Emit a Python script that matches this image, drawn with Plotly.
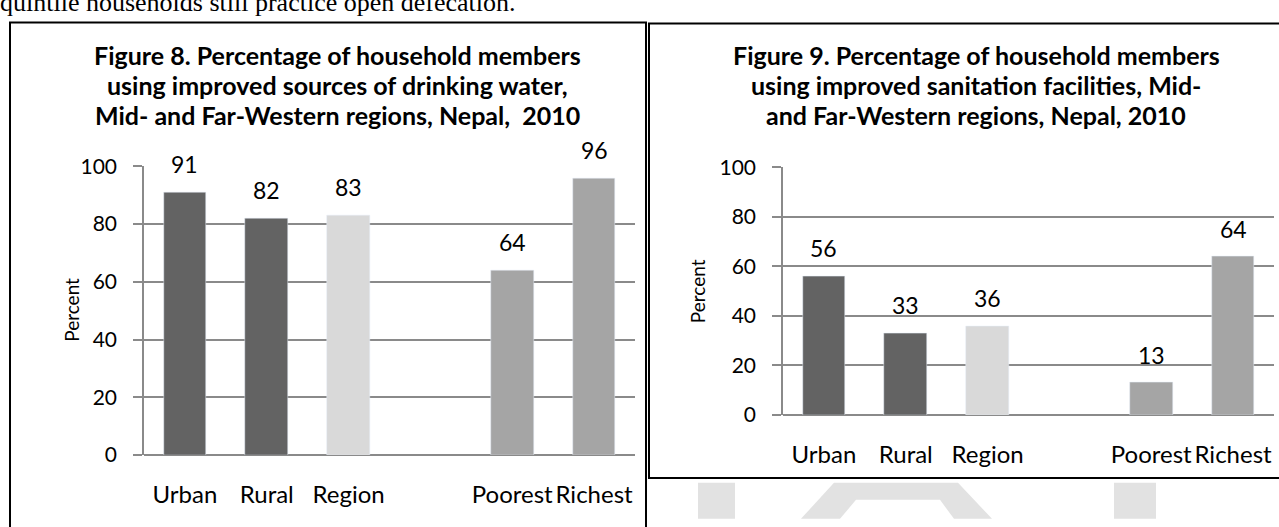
import plotly.graph_objects as go

W, H = 1279, 527

categories = ["Urban", "Rural", "Region", " ", "Poorest", "Richest"]
water_values = [91, 82, 83, None, 64, 96]
sanitation_values = [56, 33, 36, None, 13, 64]
bar_colors = ["#636363", "#636363", "#d9d9d9", "#ffffff", "#a5a5a5", "#a5a5a5"]
y_ticks = [0, 20, 40, 60, 80, 100]

title_left = ["Figure 8. Percentage of household members",
              "using improved sources of drinking water,",
              "Mid- and Far-Western regions, Nepal,  2010"]
title_right = ["Figure 9. Percentage of household members",
               "using improved sanitation facilities, Mid-",
               "and Far-Western regions, Nepal, 2010"]
top_text = "quintile households still practice open defecation."
y_title = "Percent"

FONT = "Lato, 'Open Sans', sans-serif"
GRID = "#8a8a8a"


def px(x):
    return x / W


def py(y):
    return 1 - y / H


def poly(points):
    return "M " + " L ".join("%f %f" % (px(a), py(b)) for a, b in points) + " Z"


fig = go.Figure()

fig.add_trace(go.Bar(x=categories, y=water_values, marker_color=bar_colors,
                     width=0.52, xaxis="x", yaxis="y", showlegend=False,
                     hoverinfo="skip"))
fig.add_trace(go.Bar(x=categories, y=sanitation_values, marker_color=bar_colors,
                     width=0.52, xaxis="x2", yaxis="y2", showlegend=False,
                     hoverinfo="skip"))
# clipped line of body text at the very top of the page (full-page overlay axes)
fig.add_trace(go.Scatter(x=[0], y=[4], mode="text", text=[top_text],
                         textposition="top right", xaxis="x3", yaxis="y3",
                         textfont=dict(family="Liberation Serif, serif", size=26, color="#000"),
                         showlegend=False, hoverinfo="skip", cliponaxis=False))

xcommon = dict(type="category", categoryorder="array", categoryarray=categories,
               showgrid=False, zeroline=False, showline=False, ticks="",
               tickangle=0, tickfont=dict(family=FONT, size=24, color="#000"),
               ticklabelstandoff=23, fixedrange=True)
ycommon = dict(range=[0, 100], tickvals=y_ticks, showgrid=True, gridcolor=GRID,
               gridwidth=1.5, zeroline=True, zerolinecolor=GRID, zerolinewidth=1.5,
               showline=True, linecolor=GRID, linewidth=1.5,
               ticks="outside", ticklen=9, tickcolor=GRID, tickwidth=1.5,
               tickfont=dict(family=FONT, size=21, color="#000"),
               ticklabelstandoff=12, fixedrange=True)

fig.update_layout(
    width=W, height=H, autosize=False,
    margin=dict(l=0, r=0, t=0, b=0),
    paper_bgcolor="white", plot_bgcolor="rgba(0,0,0,0)",
    bargap=0,
    xaxis=dict(domain=[px(144), px(635)], anchor="y", **xcommon),
    yaxis=dict(domain=[py(463), py(160)], anchor="x", **ycommon),
    xaxis2=dict(domain=[px(783), px(1274)], anchor="y2", **xcommon),
    yaxis2=dict(domain=[py(421), py(161)], anchor="x2", **ycommon),
    xaxis3=dict(domain=[0, 1], range=[0, W], visible=False, anchor="y3", fixedrange=True),
    yaxis3=dict(domain=[0, 1], range=[H, 0], visible=False, anchor="x3", fixedrange=True),
)

ann = []
# data labels
for xa, ya, vals in (("x", "y", water_values), ("x2", "y2", sanitation_values)):
    for c, v in zip(categories, vals):
        if v is None:
            continue
        ann.append(dict(x=c, y=v, xref=xa, yref=ya, text=str(v), showarrow=False,
                        yshift=28, font=dict(family=FONT, size=23, color="#000")))

# titles
for lines, cx in ((title_left, 337), (title_right, 976)):
    for i, t in enumerate(lines):
        ann.append(dict(x=px(cx), y=py(43 + 31.5 * i), xref="paper", yref="paper",
                        text="<b>%s</b>" % t, showarrow=False, xanchor="center",
                        yanchor="middle",
                        font=dict(family=FONT, size=25, color="#000")))

# y axis titles
ann.append(dict(x=px(58), y=py(311), xref="paper", yref="paper", text=y_title,
                textangle=-90, showarrow=False, font=dict(family=FONT, size=19, color="#000")))
ann.append(dict(x=px(697), y=py(291), xref="paper", yref="paper", text=y_title,
                textangle=-90, showarrow=False, font=dict(family=FONT, size=19, color="#000")))

fig.update_layout(annotations=ann)

shapes = []
# watermark (light gray letters at page bottom)
wm = "#e2e2e2"
shapes.append(dict(type="path", xref="paper", yref="paper", layer="below",
                   path=poly([(698, 492), (735, 492), (735, 530), (698, 530)]),
                   fillcolor=wm, line=dict(width=0)))
shapes.append(dict(type="path", xref="paper", yref="paper", layer="below",
                   path=poly([(834, 492), (958, 492), (992, 530), (954, 530), (940, 510),
                              (856, 510), (840, 530), (801, 530)]),
                   fillcolor=wm, line=dict(width=0)))
shapes.append(dict(type="path", xref="paper", yref="paper", layer="below",
                   path=poly([(1114, 492), (1156, 492), (1156, 530), (1114, 530)]),
                   fillcolor=wm, line=dict(width=0)))
# chart frames
shapes.append(dict(type="rect", xref="paper", yref="paper",
                   x0=px(10), y0=py(540), x1=px(646), y1=py(9),
                   fillcolor="rgba(0,0,0,0)", line=dict(color="#000", width=2)))
shapes.append(dict(type="rect", xref="paper", yref="paper",
                   x0=px(649), y0=py(487), x1=px(1300), y1=py(10),
                   fillcolor="rgba(0,0,0,0)", line=dict(color="#000", width=2)))
fig.update_layout(shapes=shapes)

fig.write_html("out.html", config={"displayModeBar": False},
               post_script="document.body.style.margin='0';document.body.style.overflow='hidden';")
